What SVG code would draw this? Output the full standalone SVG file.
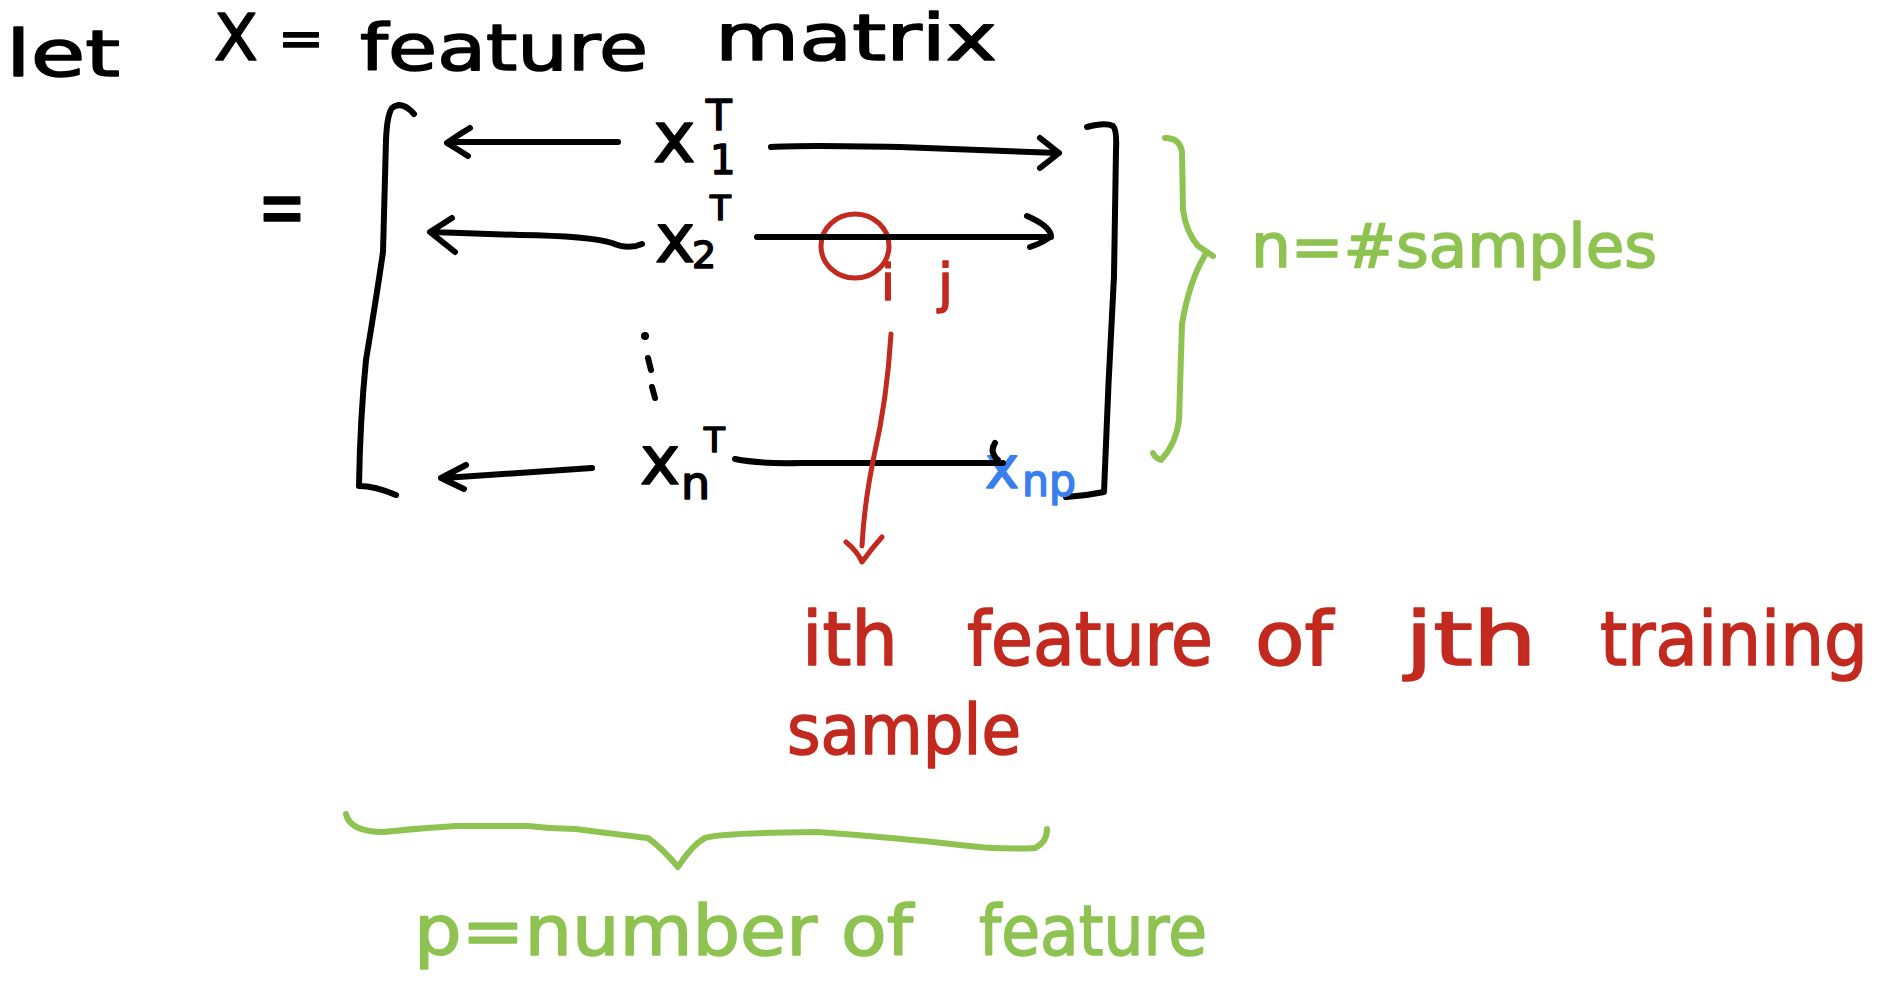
<svg xmlns="http://www.w3.org/2000/svg" width="1883" height="999" viewBox="0 0 1883 999">
<style>
.t{font-family:"DejaVu Sans","Liberation Sans",sans-serif;stroke-width:1.6;stroke-linejoin:round;}
.k{fill:#000;stroke:#000;}
.r{fill:#c2291f;stroke:#c2291f;}
.g{fill:#8fc351;stroke:#8fc351;}
.b{fill:#3a7ff0;stroke:#3a7ff0;}
.sk{fill:none;stroke:#000;stroke-width:6;stroke-linecap:round;stroke-linejoin:round;}
.sr{fill:none;stroke:#c2291f;stroke-width:5;stroke-linecap:round;stroke-linejoin:round;}
.sg{fill:none;stroke:#8fc351;stroke-width:6;stroke-linecap:round;stroke-linejoin:round;}
</style>
<rect width="1883" height="999" fill="#fff"/>
<g id="title">
<text class="t k" x="6" y="76" font-size="64" textLength="114" lengthAdjust="spacingAndGlyphs">let</text>
<text class="t k" x="214" y="60" font-size="64">X</text>
<text class="t k" x="278" y="56" font-size="52" textLength="46" lengthAdjust="spacingAndGlyphs">=</text>
<text class="t k" x="360" y="70" font-size="64" textLength="288" lengthAdjust="spacingAndGlyphs">feature</text>
<text class="t k" x="715" y="60" font-size="64" textLength="282" lengthAdjust="spacingAndGlyphs">matrix</text>
</g>
<g id="equals">
<text class="t k" x="258" y="236" font-size="86" textLength="48" lengthAdjust="spacingAndGlyphs">=</text>
</g>
<g id="matrix">
<path class="sk" d="M414,114 Q402,100 392,108 Q387,115 386,140 L383,252 Q376,300 366,360 Q360,420 359,486 Q375,486 396,495"/>
<path class="sk" d="M1087,127 Q1105,122 1113,126 Q1117,130 1116,150 L1114,276 Q1108,384 1104,492 Q1085,496 1066,497"/>
</g>
<g id="row1">
<text class="t k" x="653" y="162" font-size="72">x</text>
<text class="t k" x="710" y="174" font-size="40">1</text>
<text class="t k" x="706" y="130" font-size="42">T</text>
</g>
<g id="row2">
<text class="t k" x="655" y="262" font-size="68">x</text>
<text class="t k" x="692" y="268" font-size="38">2</text>
<text class="t k" x="710" y="220" font-size="34">T</text>
</g>
<g id="dots">
<circle cx="645" cy="336" r="4" fill="#000"/>
<path class="sk" d="M648,358 L651,370 M652,387 L655,398"/>
</g>
<g id="rown">
<text class="t k" x="640" y="484" font-size="68">x</text>
<text class="t k" x="681" y="499" font-size="46">n</text>
<text class="t k" x="704" y="452" font-size="34">T</text>
</g>
<g id="xnp">
<text class="t b" x="985" y="488" font-size="58">x</text>
<text class="t b" x="1022" y="496" font-size="44" textLength="54" lengthAdjust="spacingAndGlyphs">np</text>
</g>
<g id="element">
<ellipse class="sr" cx="855" cy="246" rx="34" ry="32"/>
<text class="t r" x="881" y="300" font-size="50">i</text>
<text class="t r" x="938" y="302" font-size="54">j</text>
</g>
<g id="connectors">
<path class="sk" d="M618,142 L452,142 M470,128 Q455,137 447,143 Q457,149 468,156"/>
<path class="sk" d="M771,147 Q800,145 900,147 L1059,153 M1040,138 L1059,153 L1040,168"/>
<path class="sk" d="M642,244 Q628,250 612,243 Q590,236 520,235 L432,232 M452,218 L430,232 L455,252"/>
<path class="sk" d="M757,237 L1051,237 M1027,216 Q1050,226 1051,236 Q1045,242 1030,247"/>
<path class="sk" d="M592,468 L444,478 M466,465 L441,478 L464,489"/>
<path class="sk" d="M735,459 Q760,464 800,463 L1003,463 M995,443 Q989,452 998,460"/>
<path class="sr" stroke-width="3.5" d="M891,334 Q887,400 874,456 Q864,505 862,546 M846,542 Q858,552 862,562 Q872,548 882,537"/>
<path class="sg" d="M1165,138 Q1180,138 1182,152 L1183,210 Q1186,232 1198,246 L1213,256 M1205,255 Q1189,282 1182,324 L1179,420 Q1176,444 1161,460 Q1155,458 1153,453"/>
<path class="sg" d="M346,814 Q350,832 384,832 Q420,828 456,826 L528,826 Q552,829 576,829 Q630,836 648,838 Q662,848 678,867 Q692,845 705,838 Q720,833 817,832 Q900,838 960,845 Q1000,850 1035,848 Q1047,842 1047,829"/>
</g>
<g id="n-label">
<text class="t g" x="1251" y="267" font-size="60" textLength="406" lengthAdjust="spacingAndGlyphs">n=#samples</text>
</g>
<g id="red-label">
<text class="t r" x="802" y="665" font-size="74" textLength="96" lengthAdjust="spacingAndGlyphs">ith</text>
<text class="t r" x="967" y="665" font-size="74" textLength="246" lengthAdjust="spacingAndGlyphs">feature</text>
<text class="t r" x="1255" y="665" font-size="74" textLength="78" lengthAdjust="spacingAndGlyphs">of</text>
<text class="t r" x="1405" y="665" font-size="74" textLength="132" lengthAdjust="spacingAndGlyphs">jth</text>
<text class="t r" x="1600" y="665" font-size="74" textLength="268" lengthAdjust="spacingAndGlyphs">training</text>
<text class="t r" x="787" y="754" font-size="70" textLength="234" lengthAdjust="spacingAndGlyphs">sample</text>
</g>
<g id="p-label">
<text class="t g" x="414" y="955" font-size="70" textLength="403" lengthAdjust="spacingAndGlyphs">p=number</text>
<text class="t g" x="841" y="955" font-size="70" textLength="72" lengthAdjust="spacingAndGlyphs">of</text>
<text class="t g" x="979" y="955" font-size="70" textLength="228" lengthAdjust="spacingAndGlyphs">feature</text>
</g>
</svg>
